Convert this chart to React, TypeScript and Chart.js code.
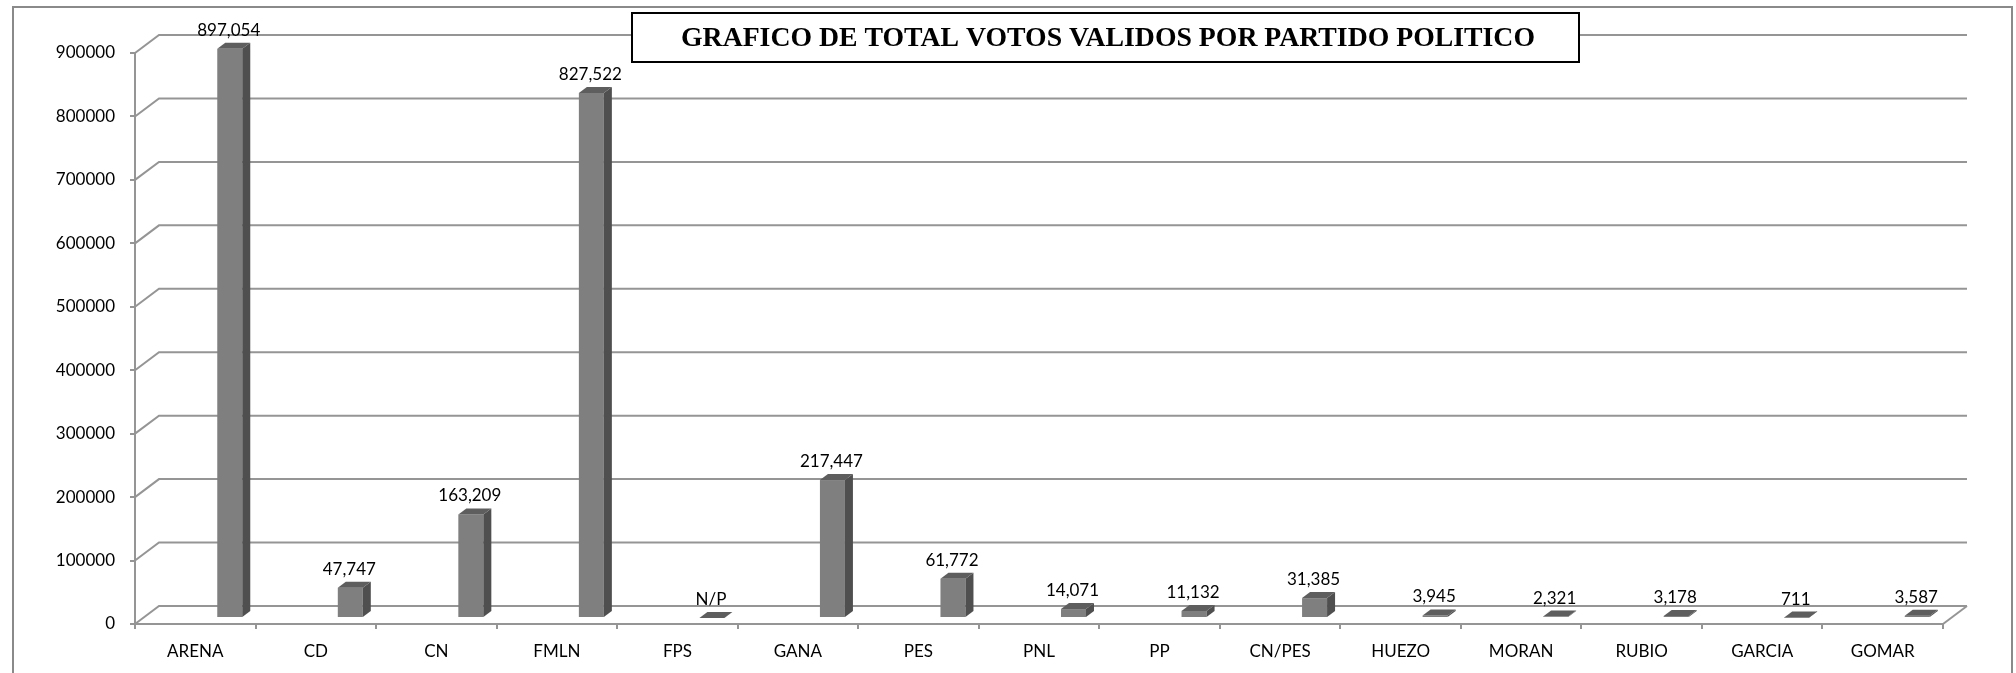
import React, { useEffect, useRef } from "react";
import { Chart, registerables } from "chart.js";

Chart.register(...registerables);

// ---- data ----
const categories = [
  "ARENA", "CD", "CN", "FMLN", "FPS", "GANA", "PES", "PNL", "PP",
  "CN/PES", "HUEZO", "MORAN", "RUBIO", "GARCIA", "GOMAR",
];
const votes: (number | null)[] = [
  897054, 47747, 163209, 827522, null, 217447, 61772, 14071, 11132,
  31385, 3945, 2321, 3178, 711, 3587,
];
const yTickValues = [0, 100000, 200000, 300000, 400000, 500000, 600000, 700000, 800000, 900000];
const chartTitle = "GRAFICO DE TOTAL VOTOS VALIDOS POR PARTIDO POLITICO";
const notPresentLabel = "N/P";

// ---- styles ----
const FONT = "Lato";
const GRID = "#959595";
const WALL_DX = 24;
const WALL_DY = 18;
const BAR_DX = 8;
const BAR_DY = 6;
const BAR_SHIFT_X = 34.5;
const BAR_SHIFT_Y = 6;

const fmt = (v: number | null) => (v == null ? notPresentLabel : v.toLocaleString("en-US"));

const threeD = {
  id: "threeD",
  beforeDraw(chart: any) {
    const ctx = chart.ctx;
    ctx.save();
    ctx.fillStyle = "#fff";
    ctx.fillRect(0, 0, chart.width, chart.height);
    ctx.strokeStyle = "#8a8a8a";
    ctx.lineWidth = 2;
    ctx.strokeRect(13, 7, 1999, 700);
    ctx.restore();
  },
  beforeDatasetsDraw(chart: any) {
    const ctx = chart.ctx;
    const { left, right, bottom } = chart.chartArea;
    const ys = chart.scales.y;
    ctx.save();
    ctx.strokeStyle = GRID;
    ctx.lineWidth = 2;
    ys.ticks.forEach((t: any) => {
      const y = ys.getPixelForValue(t.value);
      ctx.beginPath();
      ctx.moveTo(left, y);
      ctx.lineTo(left + WALL_DX, y - WALL_DY);
      ctx.lineTo(right + WALL_DX, y - WALL_DY);
      ctx.stroke();
    });
    ctx.beginPath();
    ctx.moveTo(right, bottom);
    ctx.lineTo(right + WALL_DX, bottom - WALL_DY);
    ctx.stroke();
    ctx.restore();
  },
  afterDatasetsDraw(chart: any) {
    const ctx = chart.ctx;
    const meta = chart.getDatasetMeta(0);
    ctx.save();
    meta.data.forEach((el: any, i: number) => {
      const w = el.width;
      const fx = el.x + BAR_SHIFT_X - w / 2;
      const top = el.y - BAR_SHIFT_Y;
      const bot = el.base - BAR_SHIFT_Y;
      // front
      ctx.fillStyle = "#7f7f7f";
      ctx.fillRect(fx, top, w, bot - top);
      // side
      ctx.fillStyle = "#4f4f4f";
      ctx.beginPath();
      ctx.moveTo(fx + w, top);
      ctx.lineTo(fx + w + BAR_DX, top - BAR_DY);
      ctx.lineTo(fx + w + BAR_DX, bot - BAR_DY);
      ctx.lineTo(fx + w, bot);
      ctx.closePath();
      ctx.fill();
      // top
      ctx.fillStyle = "#5e5e5e";
      ctx.beginPath();
      ctx.moveTo(fx, top);
      ctx.lineTo(fx + BAR_DX, top - BAR_DY);
      ctx.lineTo(fx + w + BAR_DX, top - BAR_DY);
      ctx.lineTo(fx + w, top);
      ctx.closePath();
      ctx.fill();
      // label
      ctx.fillStyle = "#000";
      ctx.font = `17px ${FONT}`;
      ctx.textAlign = "center";
      ctx.textBaseline = "alphabetic";
      ctx.fillText(fmt(votes[i]), fx + w / 2 - 1, top - BAR_DY - 7);
    });
    ctx.restore();
  },
  afterDraw(chart: any) {
    const ctx = chart.ctx;
    ctx.save();
    const bx = 632, by = 13, bw = 947, bh = 49;
    ctx.fillStyle = "#fff";
    ctx.fillRect(bx, by, bw, bh);
    ctx.strokeStyle = "#000";
    ctx.lineWidth = 2;
    ctx.strokeRect(bx, by, bw, bh);
    ctx.fillStyle = "#000";
    ctx.font = `bold 28px "Liberation Serif", "Times New Roman", serif`;
    ctx.textAlign = "center";
    ctx.textBaseline = "middle";
    ctx.fillText(chartTitle, 1108, by + bh / 2 + 1, 854);
    ctx.restore();
  },
};

export default function App() {
  const ref = useRef<HTMLCanvasElement | null>(null);
  useEffect(() => {
    if (!ref.current) return;
    const chart = new Chart(ref.current, {
      type: "bar",
      data: {
        labels: categories,
        datasets: [
          {
            data: votes.map((v) => (v == null ? 0 : v)),
            backgroundColor: "rgba(0,0,0,0)",
            borderWidth: 0,
            categoryPercentage: 1,
            barPercentage: 0.2074,
          },
        ],
      },
      options: {
        animation: false,
        responsive: false,
        events: [],
        layout: { padding: { top: 53, right: 73, left: 0, bottom: 0 } },
        plugins: { legend: { display: false }, tooltip: { enabled: false }, title: { display: false } },
        scales: {
          x: {
            offset: true,
            afterFit: (s: any) => { s.height = 49; },
            grid: { display: true, drawOnChartArea: false, drawTicks: true, tickLength: 5, color: GRID, lineWidth: 2, offset: true },
            border: { display: true, color: GRID, width: 2 },
            ticks: { font: { family: FONT, size: 17 }, color: "#000", padding: 12, maxRotation: 0, autoSkip: false },
          },
          y: {
            min: 0,
            max: 900000,
            afterFit: (s: any) => { s.width = 135; },
            afterBuildTicks: (s: any) => { s.ticks = yTickValues.map((v) => ({ value: v })); },
            grid: { display: true, drawOnChartArea: false, drawTicks: true, tickLength: 5, color: GRID, lineWidth: 2 },
            border: { display: true, color: GRID, width: 2 },
            ticks: { font: { family: FONT, size: 17 }, color: "#000", padding: 15, callback: (v: any) => String(v) },
          },
        },
      },
      plugins: [threeD],
    });
    return () => chart.destroy();
  }, []);
  return (
    <div style={{ position: "absolute", left: 0, top: 0, width: 2016, height: 673 }}>
      <canvas ref={ref} width={2016} height={673} style={{ display: "block", width: 2016, height: 673 }} />
    </div>
  );
}
